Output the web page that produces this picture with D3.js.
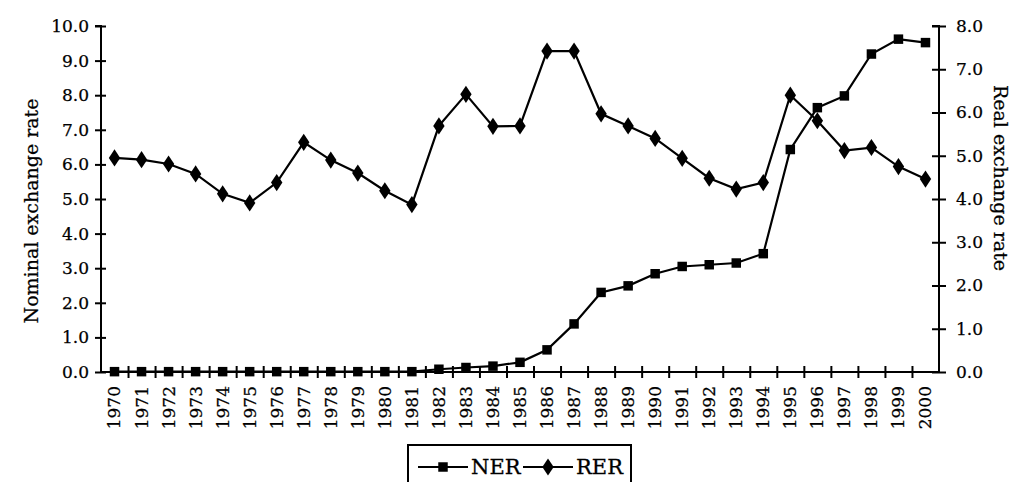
<!DOCTYPE html>
<html><head><meta charset="utf-8">
<script src="https://cdn.jsdelivr.net/npm/d3@7"></script>
<style>
html,body{margin:0;padding:0;background:#fff;}
svg{display:block;font-family:"DejaVu Serif",serif;}
</style></head>
<body><svg id="c" width="1017" height="482"></svg>
<script>
const years = [1970,1971,1972,1973,1974,1975,1976,1977,1978,1979,1980,1981,1982,1983,1984,1985,1986,1987,1988,1989,1990,1991,1992,1993,1994,1995,1996,1997,1998,1999,2000];
const nerValues = [0.01,0.01,0.01,0.01,0.01,0.01,0.01,0.01,0.01,0.01,0.01,0.01,0.08,0.13,0.17,0.28,0.64,1.39,2.30,2.49,2.84,3.05,3.10,3.15,3.42,6.43,7.64,7.98,9.19,9.62,9.52];
const rerValues = [4.95,4.91,4.81,4.58,4.12,3.91,4.38,5.31,4.90,4.60,4.19,3.87,5.69,6.42,5.68,5.69,7.42,7.42,5.97,5.69,5.40,4.94,4.48,4.23,4.38,6.40,5.81,5.12,5.19,4.75,4.46];
const leftTicks = [0,1,2,3,4,5,6,7,8,9,10];
const rightTicks = [0,1,2,3,4,5,6,7,8];
const seriesNames = ["NER","RER"];

const svg = d3.select("#c");
const L = 101, R = 939, T = 26, B = 372;
const x = d3.scaleBand().domain(years).range([L, R]).padding(0);
const yL = d3.scaleLinear().domain([0,10]).range([B, T]);
const yR = d3.scaleLinear().domain([0,8]).range([B, T]);
const fmt = d3.format(".1f");

// Left axis
const gl = svg.append("g").attr("transform",`translate(${L},0)`)
  .call(d3.axisLeft(yL).tickValues(leftTicks).tickFormat(fmt).tickSize(6).tickPadding(6));
gl.selectAll(".tick line").attr("x1",-6).attr("x2",5);
// Right axis
const gr = svg.append("g").attr("transform",`translate(${R},0)`)
  .call(d3.axisRight(yR).tickValues(rightTicks).tickFormat(fmt).tickSize(7).tickPadding(10));
gr.selectAll(".tick line").attr("x1",-7).attr("x2",7);
// Bottom axis (labels)
const gb = svg.append("g").attr("transform",`translate(0,${B})`)
  .call(d3.axisBottom(x).tickSize(0).tickPadding(0));
gb.selectAll(".tick text")
  .attr("transform","rotate(-90)")
  .attr("text-anchor","end")
  .attr("x",-14).attr("y",0).attr("dy","0.35em");
// category separator ticks
const sepScale = d3.scaleLinear().domain([0, years.length]).range([L, R]);
const gs = svg.append("g").attr("transform",`translate(0,${B})`)
  .call(d3.axisBottom(sepScale).tickValues(d3.range(1, years.length)).tickSize(6).tickFormat(""));
gs.select(".domain").remove();
gs.selectAll(".tick line").attr("y1",-6).attr("y2",6);

[gl,gr,gb].forEach(g=>{
  g.selectAll("text").attr("fill","#000").style("font-size","17px").style("font-family","DejaVu Serif, serif")
    .attr("stroke","#000").attr("stroke-width",0.25);
  g.selectAll("line,path").attr("stroke","#000").attr("stroke-width",2);
});
gs.selectAll("line").attr("stroke","#000").attr("stroke-width",2);
gl.select(".domain").attr("d",`M-6,${T}H0V${B}`);
gr.select(".domain").attr("d",`M-7,${T}H0V${B}`);
gb.select(".domain").attr("d",`M${L},0H${R}`);

const cx = d => x(d) + x.bandwidth()/2;
const nerData = years.map((y,i)=>({y, v:nerValues[i]}));
const rerData = years.map((y,i)=>({y, v:rerValues[i]}));

const lineN = d3.line().x(d=>cx(d.y)).y(d=>yL(d.v));
const lineR = d3.line().x(d=>cx(d.y)).y(d=>yR(d.v));
svg.append("path").datum(rerData).attr("d",lineR).attr("fill","none").attr("stroke","#000").attr("stroke-width",2.2);
svg.append("path").datum(nerData).attr("d",lineN).attr("fill","none").attr("stroke","#000").attr("stroke-width",2.2);

const sq = d3.symbol().type(d3.symbolSquare).size(90);
const dm = d3.symbol().type(d3.symbolDiamond).size(85);
svg.append("g").selectAll("path").data(rerData).join("path")
  .attr("d",dm).attr("transform",d=>`translate(${cx(d.y)},${yR(d.v)}) scale(1.15,1)`).attr("fill","#000");
svg.append("g").selectAll("path").data(nerData).join("path")
  .attr("d",sq).attr("transform",d=>`translate(${cx(d.y)},${yL(d.v)})`).attr("fill","#000");

// Axis titles
svg.append("text").attr("transform","translate(31,211) rotate(-90)")
  .attr("text-anchor","middle").attr("dy","0.35em").style("font-size","19px")
  .attr("stroke","#000").attr("stroke-width",0.25).text("Nominal exchange rate");
svg.append("text").attr("transform","translate(1001,178) rotate(90)")
  .attr("text-anchor","middle").attr("dy","0.35em").style("font-size","19px")
  .attr("stroke","#000").attr("stroke-width",0.25).text("Real exchange rate");

// Legend
const lg = svg.append("g");
lg.append("rect").attr("x",408).attr("y",445).attr("width",223).attr("height",50)
  .attr("fill","#fff").attr("stroke","#000").attr("stroke-width",2);
const items = [{name:seriesNames[0], x0:418, sym:sq, sx:1},{name:seriesNames[1], x0:523, sym:dm, sx:1.15}];
items.forEach(it=>{
  lg.append("line").attr("x1",it.x0).attr("x2",it.x0+50).attr("y1",467).attr("y2",467).attr("stroke","#000").attr("stroke-width",2);
  lg.append("path").attr("d",it.sym).attr("transform",`translate(${it.x0+25},467) scale(${it.sx},1)`).attr("fill","#000");
  lg.append("text").attr("x",it.x0+53).attr("y",467).attr("dy","0.35em").style("font-size","21px")
    .attr("stroke","#000").attr("stroke-width",0.3).text(it.name);
});
</script></body></html>
